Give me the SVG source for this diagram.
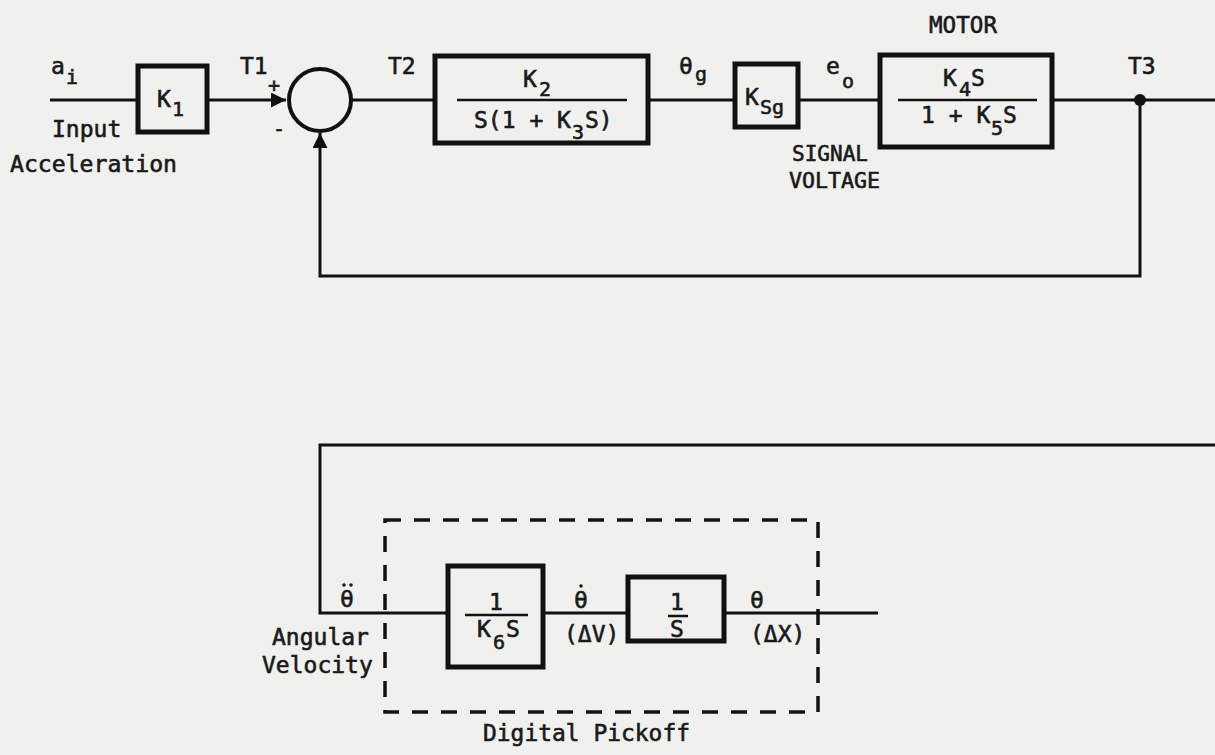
<svg xmlns="http://www.w3.org/2000/svg" width="1215" height="755" viewBox="0 0 1215 755">
<style>
.t{font-family:"DejaVu Sans Mono","Liberation Mono",monospace;font-size:23px;font-weight:normal;fill:#1a1a1a;stroke:#1a1a1a;stroke-width:0.6}
.s{font-size:20px}
.box{fill:none;stroke:#111;stroke-width:5}
.ln{fill:none;stroke:#111;stroke-width:3}
.fr{stroke:#111;stroke-width:2.5}
.dash{fill:none;stroke:#111;stroke-width:3.5;stroke-dasharray:16 13}
.dot{fill:#1a1a1a}
</style>
<defs>
<marker id="arr" viewBox="0 0 10 10" refX="10" refY="5" markerWidth="7" markerHeight="5" markerUnits="strokeWidth" orient="auto">
<path d="M0,0 L10,5 L0,10 z" fill="#111"/>
</marker>
</defs>
<rect width="1215" height="755" fill="#f0f0ee"/>

<g id="connectors">
<line class="ln" x1="50" y1="100" x2="138" y2="100"/>
<line class="ln" x1="207" y1="100" x2="286" y2="100" marker-end="url(#arr)"/>
<line class="ln" x1="352" y1="100" x2="435" y2="100"/>
<line class="ln" x1="648" y1="100" x2="735" y2="100"/>
<line class="ln" x1="798" y1="100" x2="880" y2="100"/>
<line class="ln" x1="1052" y1="100" x2="1215" y2="100"/>
<polyline class="ln" points="1140,100 1140,276 320,276 320,133" marker-end="url(#arr)"/>
<circle cx="1140" cy="100" r="6" fill="#111"/>
<polyline class="ln" points="1215,445 320,445 320,613 448,613"/>
<line class="ln" x1="543" y1="613" x2="628" y2="613"/>
<line class="ln" x1="724" y1="613" x2="878" y2="613"/>
</g>

<g id="input">
<text class="t" x="51" y="74">a<tspan class="s" x="66" y="84">i</tspan></text>
<text class="t" x="52" y="137">Input</text>
<text class="t" x="10" y="172" textLength="167" lengthAdjust="spacingAndGlyphs">Acceleration</text>
</g>

<g id="k1">
<rect class="box" x="138" y="66" width="69" height="66"/>
<text class="t" x="157" y="107">K<tspan class="s" x="172" y="116">1</tspan></text>
<text class="t" x="240" y="74">T1</text>
</g>

<g id="sum">
<circle cx="320" cy="100" r="31" fill="none" stroke="#111" stroke-width="4"/>
<text class="t" x="268" y="92" style="font-size:20px">+</text>
<text class="t" x="273" y="136" style="font-size:20px">-</text>
<text class="t" x="388" y="74">T2</text>
</g>

<g id="k2">
<rect class="box" x="435" y="56" width="213" height="87"/>
<line class="fr" x1="457" y1="100" x2="627" y2="100"/>
<text class="t" x="523" y="87">K<tspan class="s" x="539" y="96">2</tspan></text>
<text class="t" x="474" y="128">S(1 + K<tspan class="s" x="572" y="139">3</tspan><tspan x="585" y="128">S)</tspan></text>
</g>

<g id="theta_g">
<text class="t" x="679" y="74">θ<tspan class="s" x="695" y="81">g</tspan></text>
</g>

<g id="ksg">
<rect class="box" x="735" y="64" width="63" height="63"/>
<text class="t" x="745" y="105">K<tspan class="s" x="760" y="114">Sg</tspan></text>
</g>

<g id="eo">
<text class="t" x="826" y="74">e<tspan class="s" x="842" y="88">o</tspan></text>
<text class="t" x="792" y="161" style="font-size:21px" textLength="76" lengthAdjust="spacingAndGlyphs">SIGNAL</text>
<text class="t" x="789" y="188" style="font-size:21px" textLength="91" lengthAdjust="spacingAndGlyphs">VOLTAGE</text>
</g>

<g id="motor">
<text class="t" x="929" y="33" textLength="68" lengthAdjust="spacingAndGlyphs">MOTOR</text>
<rect class="box" x="880" y="55" width="172" height="92"/>
<line class="fr" x1="898" y1="100" x2="1037" y2="100"/>
<text class="t" x="943" y="86">K<tspan class="s" x="959" y="96">4</tspan><tspan x="971" y="86">S</tspan></text>
<text class="t" x="921" y="123">1 + K<tspan class="s" x="991" y="135">5</tspan><tspan x="1003" y="123">S</tspan></text>
<text class="t" x="1128" y="74">T3</text>
</g>

<g id="angular">
<text class="t" x="340" y="607">θ</text>
<circle class="dot" cx="344" cy="585" r="1.8"/>
<circle class="dot" cx="351" cy="585" r="1.8"/>
<text class="t" x="272" y="645">Angular</text>
<text class="t" x="262" y="673">Velocity</text>
</g>

<g id="pickoff">
<rect class="dash" x="385" y="520" width="433" height="192"/>
<text class="t" x="483" y="741" textLength="207" lengthAdjust="spacingAndGlyphs">Digital Pickoff</text>
</g>

<g id="k6">
<rect class="box" x="448" y="566" width="95" height="101"/>
<text class="t" x="489" y="610">1</text>
<line class="fr" x1="465" y1="615" x2="528" y2="615"/>
<text class="t" x="477" y="637">K<tspan class="s" x="493" y="649">6</tspan><tspan x="506" y="637">S</tspan></text>
</g>

<g id="thetadot">
<text class="t" x="574" y="608">θ</text>
<circle class="dot" cx="581" cy="586" r="1.8"/>
<text class="t" x="564" y="642">(ΔV)</text>
</g>

<g id="integ">
<rect class="box" x="628" y="577" width="96" height="64"/>
<text class="t" x="670" y="610">1</text>
<line class="fr" x1="668" y1="616" x2="688" y2="616"/>
<text class="t" x="670" y="637">S</text>
</g>

<g id="theta">
<text class="t" x="750" y="608">θ</text>
<text class="t" x="750" y="642">(ΔX)</text>
</g>
</svg>
